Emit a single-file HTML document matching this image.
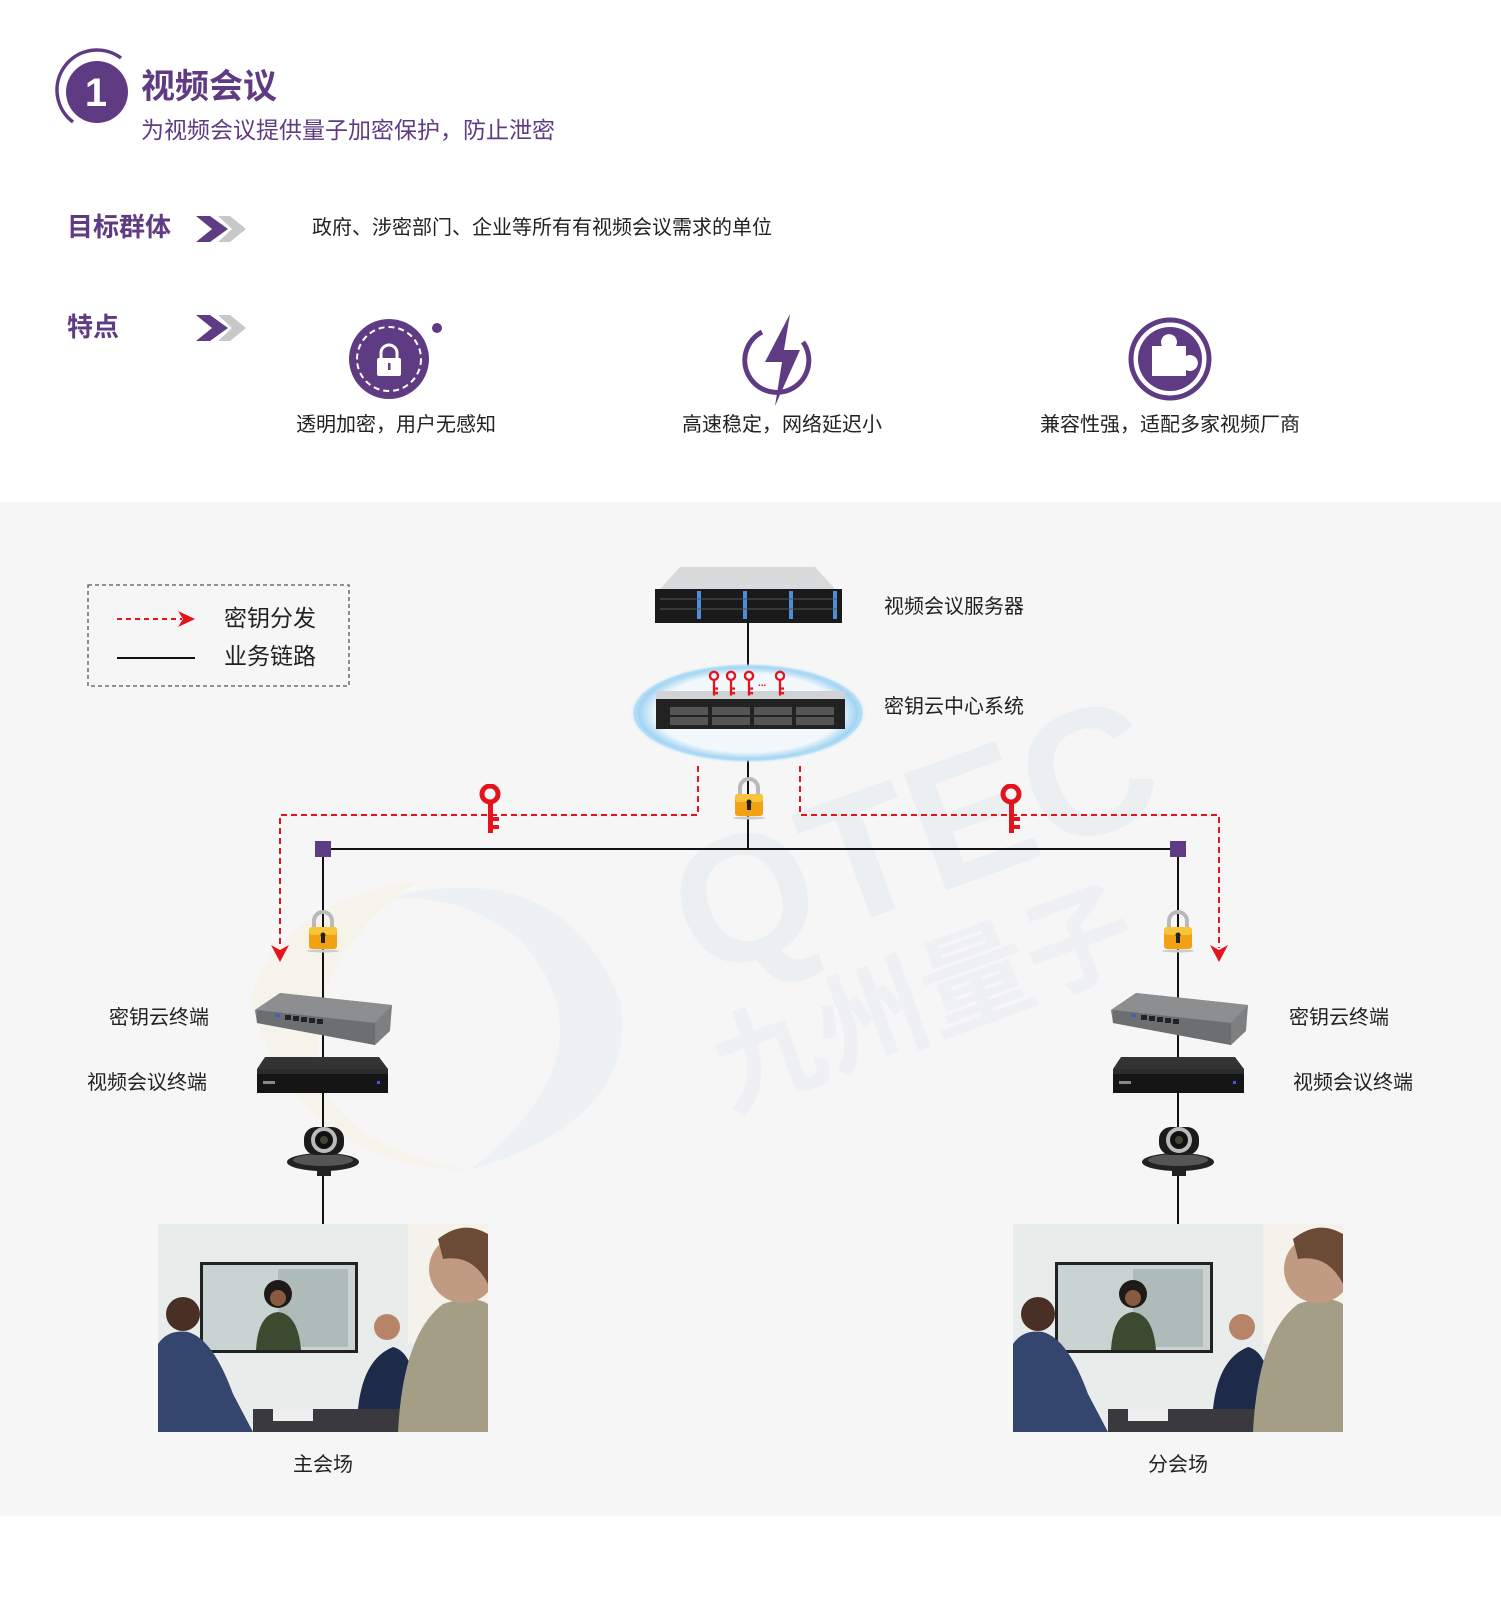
<!DOCTYPE html>
<html><head><meta charset="utf-8">
<style>
*{margin:0;padding:0;box-sizing:border-box}
body{width:1501px;height:1600px;background:#fff;position:relative;overflow:hidden;font-family:"Liberation Sans","Noto Sans CJK SC",sans-serif}
.t{position:absolute;white-space:nowrap;line-height:1}
.p{color:#5f3b83}
</style></head><body>
<div style="position:absolute;left:0;top:502px;width:1501px;height:1014px;background:#f6f6f6"></div>

<svg width="1501" height="1600" style="position:absolute;left:0;top:0">
<defs>
<symbol id="photo" viewBox="0 0 330 208">
 <rect width="330" height="208" fill="#e8ecea"/>
 <rect x="250" y="0" width="80" height="120" fill="#f4f2ea"/>
 <rect x="42" y="38" width="158" height="91" fill="#222"/>
 <rect x="45" y="41" width="152" height="85" fill="#c9d3d2"/>
 <rect x="120" y="45" width="70" height="78" fill="#aebbb8"/>
 <circle cx="120" cy="70" r="14" fill="#1e1a18"/>
 <circle cx="120" cy="74" r="8" fill="#8a5a40"/>
 <path d="M98 126 Q100 90 120 88 Q140 90 143 126Z" fill="#3c4a30"/>
 <path d="M0 120 Q10 105 30 108 Q55 115 75 170 L95 208 L0 208Z" fill="#34466e"/>
 <circle cx="25" cy="90" r="17" fill="#4a3024"/>
 <path d="M200 185 Q205 135 235 123 Q255 128 258 170 L250 190Z" fill="#1e2a4a"/>
 <circle cx="229" cy="103" r="13" fill="#b88468"/>
 <rect x="95" y="185" width="160" height="23" fill="#3a3a3e"/>
 <rect x="115" y="185" width="40" height="12" fill="#eee"/>
 <path d="M240 208 Q245 110 285 80 Q315 70 330 80 L330 208Z" fill="#a49e86"/>
 <circle cx="305" cy="45" r="34" fill="#c19a82"/>
 <path d="M280 15 Q305 -5 330 10 L330 60 Q315 30 285 35Z" fill="#6b4a36"/>
</symbol>
<symbol id="lock" viewBox="0 0 36 44">
 <path d="M9 20 V12 A9 9 0 0 1 27 12 V20" fill="none" stroke="#b9b9b9" stroke-width="4"/>
 <rect x="4" y="18" width="28" height="22" rx="3" fill="#f2a113"/>
 <rect x="4" y="18" width="28" height="8" rx="3" fill="#f8c53a"/>
 <rect x="16" y="25" width="4" height="9" fill="#222"/>
 <circle cx="18" cy="26" r="2.5" fill="#222"/>
 <ellipse cx="18" cy="42" rx="16" ry="1.5" fill="#ccc"/>
</symbol>
<symbol id="key" viewBox="0 0 24 50">
 <circle cx="12" cy="10" r="8" fill="none" stroke="#e3141d" stroke-width="5"/>
 <rect x="10" y="17" width="5" height="32" fill="#e3141d"/>
 <rect x="15" y="33" width="6" height="4" fill="#e3141d"/>
 <rect x="15" y="41" width="6" height="4" fill="#e3141d"/>
</symbol>
<symbol id="key2" viewBox="0 0 24 50">
 <circle cx="12" cy="10" r="7" fill="none" stroke="#e3141d" stroke-width="4"/>
 <rect x="10" y="16" width="4" height="28" fill="#e3141d"/>
 <rect x="14" y="30" width="5" height="4" fill="#e3141d"/>
 <rect x="14" y="38" width="5" height="4" fill="#e3141d"/>
</symbol>
<symbol id="switch" viewBox="0 0 137 52">
 <path d="M0 17 L25 0 L137 12 L135 38 L120 52 L2 30Z" fill="#7d7f80"/>
 <path d="M0 17 L120 30 L137 12 L25 0Z" fill="#8c8e8f"/>
 <path d="M2 17 L120 30 L120 52 L2 30Z" fill="#6c6e70"/>
 <g fill="#222"><rect x="30" y="22" width="6" height="5"/><rect x="38" y="23" width="6" height="5"/><rect x="46" y="24" width="6" height="5"/><rect x="54" y="25" width="6" height="5"/><rect x="62" y="26" width="6" height="5"/></g>
 <rect x="20" y="21" width="5" height="3" fill="#3a5fbf"/>
</symbol>
<symbol id="vbox" viewBox="0 0 131 36">
 <path d="M8 0 L122 0 L131 12 L0 12Z" fill="#333"/>
 <rect x="0" y="12" width="131" height="24" fill="#151515"/>
 <rect x="0" y="12" width="131" height="5" fill="#2c2c2c"/>
 <rect x="6" y="24" width="12" height="3" fill="#888"/>
 <rect x="120" y="24" width="3" height="3" fill="#3b5ad8"/>
</symbol>
<symbol id="cam" viewBox="0 0 73 55">
 <ellipse cx="36" cy="40" rx="36" ry="9" fill="#222"/>
 <ellipse cx="36" cy="38" rx="30" ry="6" fill="#555"/>
 <rect x="17" y="5" width="40" height="28" rx="12" fill="#1b1b1b"/>
 <circle cx="37" cy="18" r="13" fill="#bbb"/>
 <circle cx="37" cy="18" r="9" fill="#111"/>
 <circle cx="37" cy="18" r="4" fill="#443"/>
 <rect x="30" y="46" width="14" height="8" fill="#222"/>
</symbol>
<symbol id="rack" viewBox="0 0 187 56">
 <path d="M25 0 L160 0 L180 22 L5 22Z" fill="#d9dadb"/>
 <rect x="0" y="22" width="187" height="34" fill="#1a1a1a"/>
 <g fill="#4a8fd8"><rect x="42" y="24" width="4" height="28"/><rect x="88" y="24" width="4" height="28"/><rect x="134" y="24" width="4" height="28"/><rect x="178" y="24" width="4" height="28"/></g>
 <g stroke="#555" stroke-width="1"><line x1="5" y1="32" x2="182" y2="32"/><line x1="5" y1="42" x2="182" y2="42"/></g>
</symbol>
<radialGradient id="glow" cx="50%" cy="50%" r="50%">
 <stop offset="0.78" stop-color="#f3f8fc"/><stop offset="0.93" stop-color="#9fd2f2"/><stop offset="1" stop-color="#cfe9f8" stop-opacity="0"/>
</radialGradient>
</defs>

<!-- watermark -->
<g opacity="0.5">
 <path d="M380 900 Q560 850 620 1000 Q640 1120 470 1170 Q620 1050 520 940 Q460 890 380 900Z" fill="#e6ecf2"/>
 <path d="M250 1000 Q280 900 420 880 Q300 960 320 1080 Q350 1150 470 1170 Q300 1170 250 1000Z" fill="#f6f1e0"/>
 <text x="700" y="980" font-family="Liberation Sans" font-weight="bold" font-size="180" fill="#e3e9ef" transform="rotate(-20 700 980)">QTEC</text>
 <text x="730" y="1110" font-family="Noto Sans CJK SC" font-weight="bold" font-size="110" fill="#e6ebf0" transform="rotate(-20 730 1110)">九州量子</text>
</g>

<!-- header circle -->
<path d="M121 58 A37 37 0 1 0 73 122" fill="none" stroke="#5f3b83" stroke-width="3.5"/>
<circle cx="97" cy="92" r="31" fill="#5f3b83"/>
<text x="96" y="106" text-anchor="middle" font-family="Liberation Sans" font-weight="bold" font-size="40" fill="#fff">1</text>

<!-- chevrons -->
<g transform="translate(196,216)">
 <path d="M22 0 L34 0 L50 13 L34 26 L22 26 L36 13Z" fill="#c8c8c8"/><path d="M0 0 L14 0 L32 13 L14 26 L0 26 L16 13Z" fill="#5f3b83"/>
</g>
<g transform="translate(196,315)">
 <path d="M22 0 L34 0 L50 13 L34 26 L22 26 L36 13Z" fill="#c8c8c8"/><path d="M0 0 L14 0 L32 13 L14 26 L0 26 L16 13Z" fill="#5f3b83"/>
</g>

<!-- feature icons -->
<circle cx="389" cy="359" r="40" fill="#5f3b83"/>
<circle cx="389" cy="359" r="32" fill="none" stroke="#fff" stroke-width="2" stroke-dasharray="6 4"/>
<path d="M381 360 v-7 a8 8 0 0 1 16 0 v7" fill="none" stroke="#fff" stroke-width="3"/>
<rect x="377" y="358" width="24" height="18" rx="2" fill="#fff"/><rect x="388" y="363" width="2.5" height="7" fill="#5f3b83"/>
<circle cx="437" cy="328" r="5" fill="#5f3b83"/>

<path d="M803 342 A32 32 0 1 1 762 332" fill="none" stroke="#5f3b83" stroke-width="5"/>
<path d="M790 314 L765 362 L782 362 L775 406 L800 350 L784 350Z" fill="#5f3b83"/>

<circle cx="1170" cy="359" r="39" fill="none" stroke="#5f3b83" stroke-width="5"/>
<circle cx="1170" cy="359" r="32" fill="#5f3b83"/>
<path d="M1152 346 h10 a8 8 0 1 1 14 0 h10 v10 a8 8 0 1 1 0 14 v6 h-34Z" fill="#fff"/>

<!-- legend -->
<rect x="88" y="585" width="261" height="101" fill="none" stroke="#555" stroke-width="1.3" stroke-dasharray="4 3"/>
<line x1="117" y1="619" x2="182" y2="619" stroke="#e3141d" stroke-width="2" stroke-dasharray="5 4"/>
<path d="M178 611 L195 619 L178 627 L183 619Z" fill="#e3141d"/>
<line x1="117" y1="658" x2="195" y2="658" stroke="#111" stroke-width="2"/>

<!-- lines -->
<line x1="748" y1="623" x2="748" y2="849" stroke="#111" stroke-width="2"/>
<line x1="323" y1="849" x2="1178" y2="849" stroke="#111" stroke-width="2"/>
<line x1="323" y1="849" x2="323" y2="1225" stroke="#111" stroke-width="2"/>
<line x1="1178" y1="849" x2="1178" y2="1225" stroke="#111" stroke-width="2"/>
<rect x="315" y="841" width="16" height="16" fill="#5f3b83"/>
<rect x="1170" y="841" width="16" height="16" fill="#5f3b83"/>

<!-- red dashed -->
<g fill="none" stroke="#e3141d" stroke-width="2" stroke-dasharray="6 4">
 <path d="M698 766 V815 H280 V948"/>
 <path d="M800 766 V815 H1219 V948"/>
</g>
<path d="M271 945 L280 962 L289 945 L280 950Z" fill="#e3141d"/>
<path d="M1210 945 L1219 962 L1228 945 L1219 950Z" fill="#e3141d"/>

<!-- center devices -->
<use href="#rack" x="655" y="567" width="187" height="56"/>
<ellipse cx="748" cy="713" rx="118" ry="50" fill="url(#glow)"/>
<ellipse cx="748" cy="713" rx="113" ry="46" fill="none" stroke="#a9daf5" stroke-width="3" opacity="0.8"/>
<g transform="translate(656,697)">
 <rect width="189" height="32" fill="#222"/><rect y="-6" width="189" height="8" fill="#d0d2d4"/>
 <g fill="#555"><rect x="14" y="10" width="38" height="8"/><rect x="56" y="10" width="38" height="8"/><rect x="98" y="10" width="38" height="8"/><rect x="140" y="10" width="38" height="8"/><rect x="14" y="20" width="38" height="8"/><rect x="56" y="20" width="38" height="8"/><rect x="98" y="20" width="38" height="8"/><rect x="140" y="20" width="38" height="8"/></g>
</g>
<use href="#key2" x="707" y="670" width="14" height="29"/>
<use href="#key2" x="724" y="670" width="14" height="29"/>
<use href="#key2" x="742" y="670" width="14" height="29"/>
<text x="758" y="686" font-size="10" fill="#e3141d" font-family="Liberation Sans" font-weight="bold">...</text>
<use href="#key2" x="773" y="670" width="14" height="29"/>

<use href="#lock" x="731" y="776" width="36" height="44"/>
<use href="#key" x="478" y="784" width="24" height="50"/>
<use href="#key" x="999" y="784" width="24" height="50"/>

<!-- left column -->
<use href="#lock" x="305" y="909" width="36" height="44"/>
<use href="#switch" x="255" y="993" width="137" height="52"/>
<use href="#vbox" x="257" y="1057" width="131" height="36"/>
<use href="#cam" x="287" y="1122" width="73" height="55"/>
<use href="#photo" x="158" y="1224" width="330" height="208"/>
<!-- right column -->
<use href="#lock" x="1160" y="909" width="36" height="44"/>
<use href="#switch" x="1111" y="993" width="137" height="52"/>
<use href="#vbox" x="1113" y="1057" width="131" height="36"/>
<use href="#cam" x="1142" y="1122" width="73" height="55"/>
<use href="#photo" x="1013" y="1224" width="330" height="208"/>
</svg>

<div class="t p" style="left:141px;top:70px;font-size:34px;font-weight:bold">视频会议</div>
<div class="t p" style="left:141px;top:119px;font-size:23px">为视频会议提供量子加密保护，防止泄密</div>
<div class="t p" style="left:67px;top:214px;font-size:26px;font-weight:bold">目标群体</div>
<div class="t" style="left:312px;top:218px;font-size:20px;color:#222">政府、涉密部门、企业等所有有视频会议需求的单位</div>
<div class="t p" style="left:67px;top:314px;font-size:26px;font-weight:bold">特点</div>
<div class="t" style="left:286px;top:415px;width:220px;text-align:center;font-size:20px;color:#222">透明加密，用户无感知</div>
<div class="t" style="left:672px;top:415px;width:220px;text-align:center;font-size:20px;color:#222">高速稳定，网络延迟小</div>
<div class="t" style="left:1020px;top:415px;width:300px;text-align:center;font-size:20px;color:#222">兼容性强，适配多家视频厂商</div>

<div class="t" style="left:224px;top:607px;font-size:23px;color:#222">密钥分发</div>
<div class="t" style="left:224px;top:645px;font-size:23px;color:#222">业务链路</div>

<div class="t" style="left:884px;top:597px;font-size:20px;color:#222">视频会议服务器</div>
<div class="t" style="left:884px;top:697px;font-size:20px;color:#222">密钥云中心系统</div>
<div class="t" style="left:109px;top:1008px;font-size:20px;color:#222">密钥云终端</div>
<div class="t" style="left:87px;top:1073px;font-size:20px;color:#222">视频会议终端</div>
<div class="t" style="left:1289px;top:1008px;font-size:20px;color:#222">密钥云终端</div>
<div class="t" style="left:1293px;top:1073px;font-size:20px;color:#222">视频会议终端</div>
<div class="t" style="left:273px;top:1455px;width:100px;text-align:center;font-size:20px;color:#222">主会场</div>
<div class="t" style="left:1128px;top:1455px;width:100px;text-align:center;font-size:20px;color:#222">分会场</div>
</body></html>
